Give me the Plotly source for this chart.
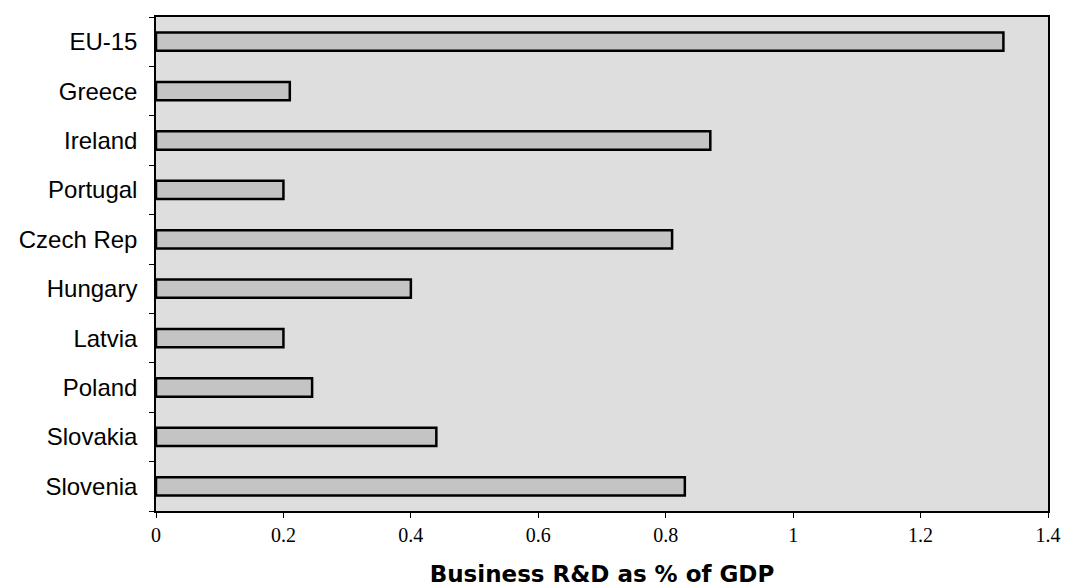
import plotly.graph_objects as go

countries = ["EU-15", "Greece", "Ireland", "Portugal", "Czech Rep", "Hungary",
             "Latvia", "Poland", "Slovakia", "Slovenia"]
values = [1.33, 0.21, 0.87, 0.20, 0.81, 0.40, 0.20, 0.245, 0.44, 0.83]
tick_vals = [0, 0.2, 0.4, 0.6, 0.8, 1.0, 1.2, 1.4]
tick_text = ["0", "0.2", "0.4", "0.6", "0.8", "1", "1.2", "1.4"]

fig = go.Figure(go.Bar(
    y=countries, x=values, orientation="h",
    width=0.37,
    marker=dict(color="#c4c4c4", line=dict(color="black", width=2.5)),
))

fig.update_layout(
    width=1082, height=587,
    margin=dict(l=148, r=42, t=7, b=84),
    paper_bgcolor="white",
    plot_bgcolor="#dedede",
    showlegend=False,
    xaxis=dict(
        range=[0, 1.4], tickvals=tick_vals, ticktext=tick_text,
        showgrid=False, zeroline=False,
        ticks="outside", ticklen=5, tickcolor="black",
        showline=True, linecolor="black", linewidth=1.5, mirror=True,
        ticklabelstandoff=0,
        tickfont=dict(family="Liberation Serif, Times New Roman, serif", size=20, color="black"),
        title=dict(text="<b>Business R&D as % of GDP</b>", standoff=21,
                   font=dict(family="DejaVu Sans, sans-serif", size=23, color="black")),
    ),
    yaxis=dict(
        categoryorder="array", categoryarray=countries[::-1],
        tickson="boundaries", ticks="outside", ticklen=5, tickcolor="black",
        showgrid=False, zeroline=False,
        showline=True, linecolor="black", linewidth=1.5, mirror=True,
        ticklabelstandoff=12,
        tickfont=dict(family="Liberation Sans, Arial, sans-serif", size=24, color="black"),
    ),
)

fig.write_html("out.html")
